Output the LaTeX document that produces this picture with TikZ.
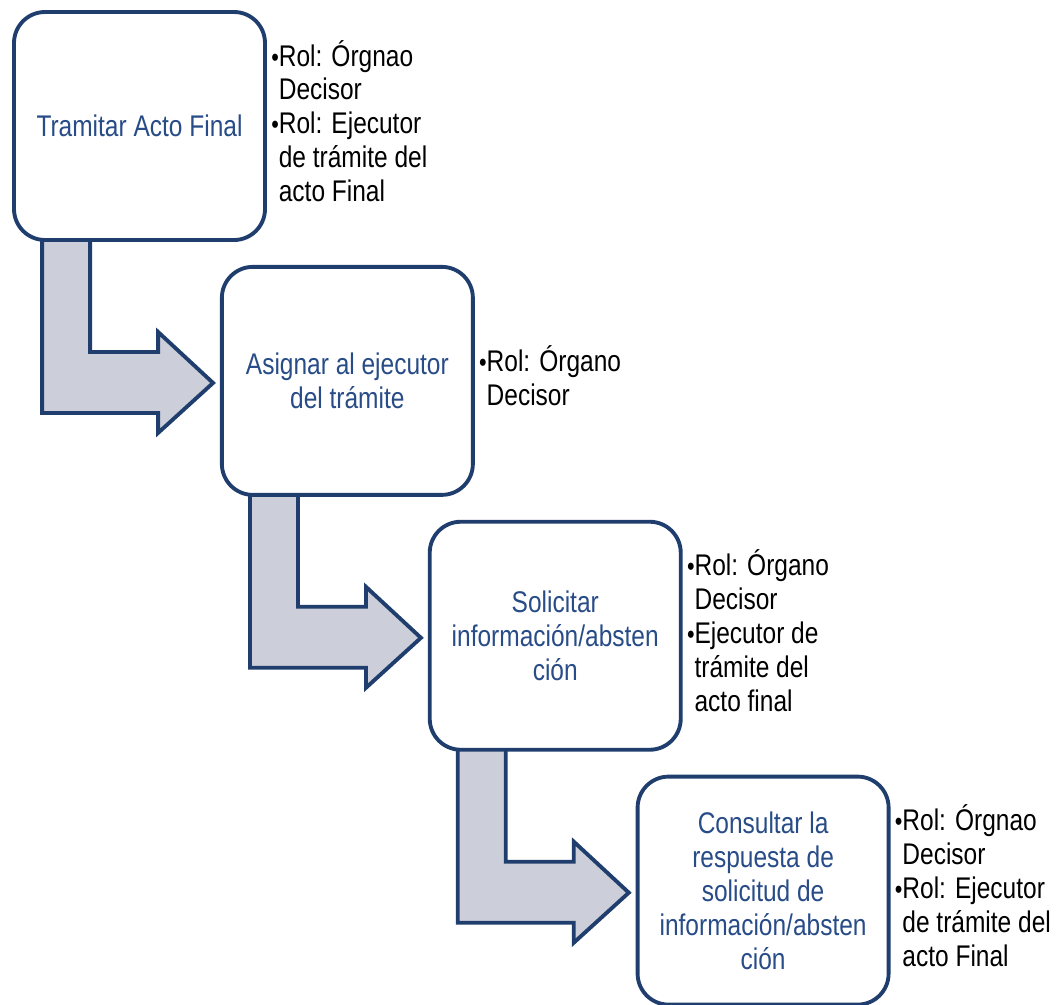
\documentclass[tikz,border=0pt]{standalone}
\usepackage{fontspec}
\setmainfont{Liberation Sans}[FakeStretch=0.82]
\usetikzlibrary{positioning, calc, backgrounds}
\definecolor{boxline}{RGB}{31,62,110}
\definecolor{boxtext}{RGB}{40,76,135}
\definecolor{arrowfill}{RGB}{204,207,217}
\newcommand{\bul}{{\fontsize{15}{15}\selectfont •}\hspace{3pt}}

\begin{document}
\begin{tikzpicture}[
  box/.style={rectangle, draw=boxline, line width=2.2pt, rounded corners=0.62cm, fill=white,
    minimum width=5.02cm, minimum height=4.56cm, align=center, text=boxtext},
  roles/.style={inner sep=0pt, align=left},
  barrow/.style={draw=boxline, line width=2.2pt, fill=arrowfill},
  font=\fontsize{17}{19.3}\selectfont
]
\useasboundingbox (0,0) rectangle (21.22,-20.08);
\node[box] (b1) at (2.79,-2.52) {Tramitar Acto Final};
\node[box, below right=0.46cm and -0.94cm of b1] (b2) {Asignar al ejecutor\\del trámite};
\node[box, below right=0.46cm and -0.94cm of b2] (b3) {Solicitar\\información/absten\\ción};
\node[box, below right=0.46cm and -0.94cm of b3] (b4) {Consultar la\\respuesta de\\solicitud de\\información/absten\\ción};
% roles beside each step
\node[roles, right=0.08cm of b1] (r1) {\begin{tabular}{@{}l@{}l@{}}\bul&Rol: Órgnao\\&Decisor\\\bul&Rol: Ejecutor\\&de trámite del\\&acto Final\end{tabular}};
\node[roles, right=0.08cm of b2] (r2) {\begin{tabular}{@{}l@{}l@{}}\bul&Rol: Órgano\\&Decisor\end{tabular}};
\node[roles, right=0.08cm of b3] (r3) {\begin{tabular}{@{}l@{}l@{}}\bul&Rol: Órgano\\&Decisor\\\bul&Ejecutor de\\&trámite del\\&acto final\end{tabular}};
\node[roles, right=0.08cm of b4] (r4) {\begin{tabular}{@{}l@{}l@{}}\bul&Rol: Órgnao\\&Decisor\\\bul&Rol: Ejecutor\\&de trámite del\\&acto Final\end{tabular}};
% bent arrows between steps
\begin{scope}[on background layer]
\draw[barrow] ($(b1.south west)+(0.6,0.2)$) -- ++(0,-3.62) -- ++(2.32,0) -- ++(0,-0.4) -- ++(1.1,1.0)
  -- ++(-1.1,1.02) -- ++(0,-0.4) -- ++(-1.36,0) -- ++(0,2.4) -- cycle;
\draw[barrow] ($(b2.south west)+(0.6,0.2)$) -- ++(0,-3.62) -- ++(2.32,0) -- ++(0,-0.4) -- ++(1.1,1.0)
  -- ++(-1.1,1.02) -- ++(0,-0.4) -- ++(-1.36,0) -- ++(0,2.4) -- cycle;
\draw[barrow] ($(b3.south west)+(0.6,0.2)$) -- ++(0,-3.62) -- ++(2.32,0) -- ++(0,-0.4) -- ++(1.1,1.0)
  -- ++(-1.1,1.02) -- ++(0,-0.4) -- ++(-1.36,0) -- ++(0,2.4) -- cycle;
\end{scope}
\end{tikzpicture}
\end{document}
